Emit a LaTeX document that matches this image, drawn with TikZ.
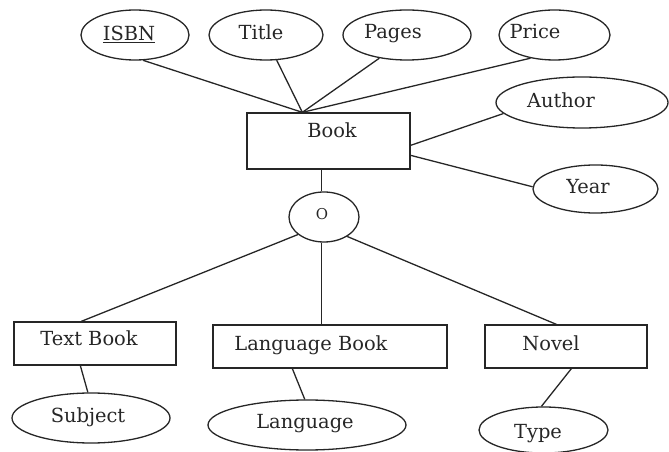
\documentclass[tikz,border=0pt]{standalone}
\usepackage{fontspec}
\setmainfont{DejaVu Serif}
\usetikzlibrary{shapes.geometric}
\begin{document}
\begin{tikzpicture}[x=1bp,y=-1bp,
  txt/.style={inner sep=0pt, anchor=base, text=black!85, font=\fontsize{19.5}{22}\selectfont},
  attr/.style={draw=black!85, ellipse, inner sep=0pt, line width=1.3bp},
  ent/.style={draw=black!85, rectangle, inner sep=0pt, line width=1.3bp},
  link/.style={draw=black!85, line width=1.3bp}]
\useasboundingbox (0,0) rectangle (669,452);

% entity rectangles
\node[ent, minimum width=163bp, minimum height=56bp] (book) at (328.5,141) {};
\node[ent, minimum width=162bp, minimum height=43bp] (tb) at (95,343.5) {};
\node[ent, minimum width=234bp, minimum height=43bp] (lb) at (330,346.5) {};
\node[ent, minimum width=162bp, minimum height=43bp] (nv) at (566,346.5) {};

% attribute ellipses
\node[attr, minimum width=108bp, minimum height=50bp] (isbn) at (135,35) {};
\node[attr, minimum width=114bp, minimum height=50bp] (title) at (266,35) {};
\node[attr, minimum width=128bp, minimum height=50bp] (pages) at (407,35) {};
\node[attr, minimum width=111bp, minimum height=50bp] (price) at (554.5,35) {};
\node[attr, minimum width=172bp, minimum height=51bp] (author) at (582,102.5) {};
\node[attr, minimum width=125bp, minimum height=48bp] (year) at (595.5,189) {};
\node[attr, minimum width=158bp, minimum height=50bp] (subject) at (91,418) {};
\node[attr, minimum width=198bp, minimum height=50bp] (language) at (307,425) {};
\node[attr, minimum width=129bp, minimum height=46bp] (type) at (543.5,430) {};

% disjoint specialisation circle
\node[attr, minimum width=70bp, minimum height=50bp] (o) at (324,217) {};

% labels
\node[txt] (bookT) at (332,138) {Book};
\node[txt] (tbT) at (89,345) {Text Book};
\node[txt] (lbT) at (311,350) {Language Book};
\node[txt] (nvT) at (551,350) {Novel};
\node[txt] (isbnT) at (129,41) {\underline{ISBN}};
\node[txt] (titleT) at (261,40) {Title};
\node[txt] (pagesT) at (393,39) {Pages};
\node[txt] (priceT) at (535,39) {Price};
\node[txt] (authorT) at (561,108) {Author};
\node[txt] (yearT) at (588,194) {Year};
\node[txt] (subjectT) at (88,422) {Subject};
\node[txt] (languageT) at (305,428) {Language};
\node[txt] (typeT) at (538,438) {Type};
\node[txt, font=\fontsize{15}{17}\selectfont] (oT) at (322,220) {O};

% connection points on the entities
\coordinate (bktop) at ([xshift=56bp]book.north west);
\coordinate (bkbot) at ([xshift=75bp]book.south west);
\coordinate (tbtop) at ([xshift=68bp]tb.north west);
\coordinate (lbtop) at ([xshift=109bp]lb.north west);
\coordinate (nvtop) at ([xshift=72bp]nv.north west);

% attributes of Book
\draw[link] (isbn.-72) -- (bktop);
\draw[link] (title.-67) -- (bktop);
\draw[link] (pages.-140) -- (bktop);
\draw[link] (price.-136) -- (bktop);
\draw[link] ([yshift=-33bp]book.north east) -- (author.-172);
\draw[link] ([yshift=-43bp]book.north east) -- (year.178);

% specialisation
\draw[link] (bkbot) -- (bkbot |- o.north);
\draw[link] (o.-146) -- (tbtop);
\draw[link] (lbtop |- o.south) -- (lbtop);
\draw[link] (o.-40) -- (nvtop);

% attributes of the subclasses
\draw[link] ([xshift=67bp]tb.south west) -- (subject.97);
\draw[link] ([xshift=80bp]lb.south west) -- (language.95);
\draw[link] ([xshift=87bp]nv.south west) -- (type.95);
\end{tikzpicture}
\end{document}
